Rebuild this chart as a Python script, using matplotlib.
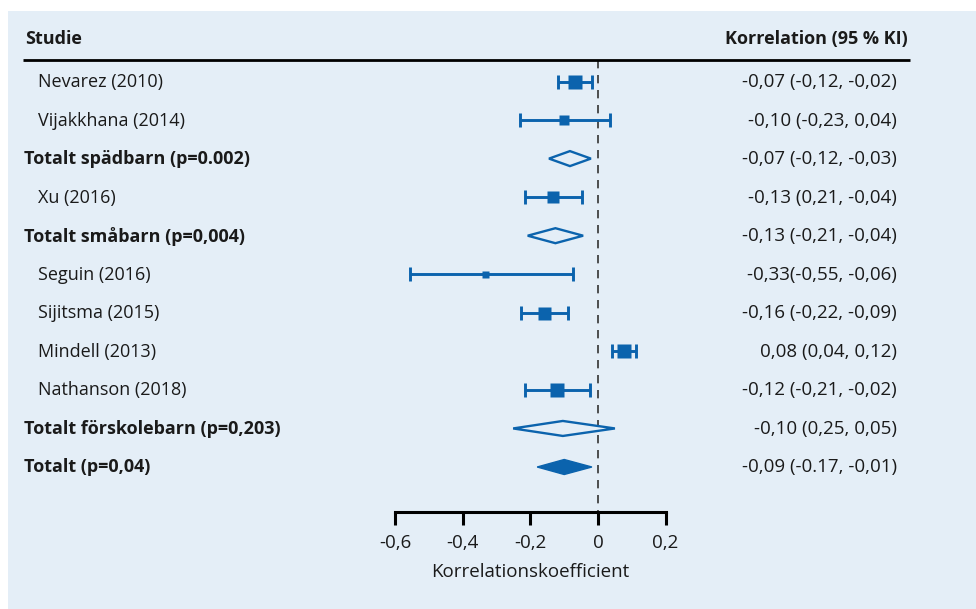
import matplotlib
matplotlib.use("Agg")
import matplotlib.pyplot as plt
from matplotlib.patches import Rectangle, Polygon

plt.rcParams['font.family'] = ['Open Sans', 'DejaVu Sans']

# rows, top to bottom
labels = ["Nevarez (2010)", "Vijakkhana (2014)", "Totalt spädbarn (p=0.002)",
          "Xu (2016)", "Totalt småbarn (p=0,004)", "Seguin (2016)",
          "Sijitsma (2015)", "Mindell (2013)", "Nathanson (2018)",
          "Totalt förskolebarn (p=0,203)", "Totalt (p=0,04)"]
kind = ["study", "study", "pooled", "study", "pooled", "study",
        "study", "study", "study", "pooled", "total"]
est = [-0.068, -0.10, -0.083, -0.133, -0.126, -0.334, -0.16, 0.077, -0.121, -0.104, -0.10]
lo = [-0.118, -0.23, -0.145, -0.216, -0.208, -0.556, -0.228, 0.041, -0.216, -0.251, -0.18]
hi = [-0.018, 0.036, -0.021, -0.047, -0.044, -0.074, -0.089, 0.112, -0.024, 0.05, -0.018]
weight_px = [14, 10, 0, 12, 0, 7, 13, 14, 14, 0, 0]
ci_text = ["-0,07 (-0,12, -0,02)", "-0,10 (-0,23, 0,04)", "-0,07 (-0,12, -0,03)",
           "-0,13 (0,21, -0,04)", "-0,13 (-0,21, -0,04)", "-0,33(-0,55, -0,06)",
           "-0,16 (-0,22, -0,09)", "0,08 (0,04, 0,12)", "-0,12 (-0,21, -0,02)",
           "-0,10 (0,25, 0,05)", "-0,09 (-0.17, -0,01)"]
xticks = [-0.6, -0.4, -0.2, 0, 0.2]
xticklabels = ["-0,6", "-0,4", "-0,2", "0", "0,2"]

blue = '#0b63ad'
bg = '#e4eef7'
ink = '#1a1a1a'
fs = 13

W, H = 976, 609
x0_px, unit_px = 598, 338      # pixel of 0 and pixels per unit
r0_px, row_px = 81.5, 38.55    # pixel of first row and row spacing

def px2v(px):
    return (px - x0_px) / unit_px

def py2r(py):
    return (py - r0_px) / row_px

fig = plt.figure(figsize=(W / 100, H / 100), dpi=100)
fig.patch.set_facecolor('white')
fig.patches.append(Rectangle((8 / W, 0), 1, (H - 11) / H, transform=fig.transFigure,
                             facecolor=bg, edgecolor='none', zorder=-10))

ax = fig.add_axes([0, 0, 1, 1])
ax.set_facecolor('none')
ax.set_xlim(px2v(0), px2v(W))
ax.set_ylim(py2r(H), py2r(0))

# header
ax.text(px2v(25), py2r(39), "Studie", fontsize=fs, fontweight='bold', color=ink,
        ha='left', va='center')
ax.text(px2v(908), py2r(39), "Korrelation (95 % KI)", fontsize=fs, fontweight='bold',
        color=ink, ha='right', va='center')
ax.plot([px2v(23), px2v(910)], [py2r(60), py2r(60)], color='black', lw=2, solid_capstyle='butt')

# reference line
ax.plot([0, 0], [py2r(60), py2r(512)], color='#333333', lw=1.2, ls=(0, (5, 4)), zorder=1)

for i, lab in enumerate(labels):
    yt = i + 0.5 / row_px
    if kind[i] == "study":
        ax.text(px2v(38), yt, lab, fontsize=fs, color=ink, ha='left', va='center')
        ax.errorbar(est[i], i, xerr=[[est[i] - lo[i]], [hi[i] - est[i]]], fmt='none',
                    ecolor=blue, elinewidth=2.1, capsize=5, capthick=2.1, zorder=3)
        ax.plot(est[i], i, marker='s', ms=weight_px[i] * 0.72, color=blue,
                mec='none', zorder=4)
    else:
        ax.text(px2v(24), yt, lab, fontsize=fs, fontweight='bold', color=ink,
                ha='left', va='center')
        h = 7.5 / row_px
        pts = [(lo[i], i), (est[i], i - h), (hi[i], i), (est[i], i + h)]
        if kind[i] == "total":
            ax.add_patch(Polygon(pts, closed=True, facecolor=blue, edgecolor=blue,
                                 lw=1, zorder=3))
        else:
            ax.add_patch(Polygon(pts, closed=True, facecolor=bg, edgecolor=blue,
                                 lw=1.7, zorder=3))
    ax.text(px2v(897), yt, ci_text[i], fontsize=13.5, color=ink, ha='right', va='center')

# x axis
for s in ['top', 'left', 'right']:
    ax.spines[s].set_visible(False)
ax.spines['bottom'].set_position(('data', py2r(512)))
ax.spines['bottom'].set_bounds(-0.6, 0.2)
ax.spines['bottom'].set_linewidth(2.2)
ax.spines['bottom'].set_capstyle('projecting')
ax.set_xticks(xticks)
ax.set_xticklabels(xticklabels)
ax.tick_params(axis='x', direction='out', length=9, width=2.2, pad=7,
               labelsize=13.5, labelcolor=ink)
ax.set_yticks([])
ax.text(-0.2, py2r(572), "Korrelationskoefficient", fontsize=13.5, color=ink,
        ha='center', va='center')

fig.savefig("out.png", dpi=100)
